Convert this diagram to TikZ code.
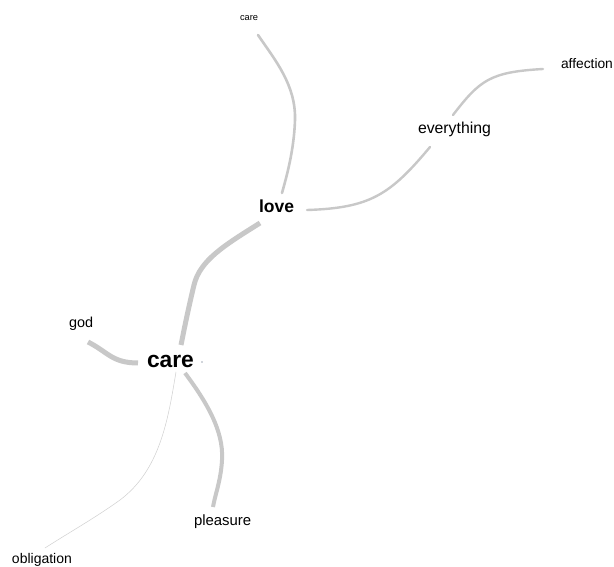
\documentclass[tikz,border=0pt]{standalone}
\usepackage{fontspec}
\setmainfont{Liberation Sans}
\begin{document}
\begin{tikzpicture}[x=1pt,y=-1pt,
  word/.style={anchor=base west,inner sep=0pt,outer sep=0pt,text=black},
  link/.style={draw=edgegray,line cap=round,line join=round},
]
\definecolor{edgegray}{HTML}{C8C8C8}
\definecolor{dotcol}{HTML}{3A4A66}
\useasboundingbox[fill=white] (0,0) rectangle (614,567);

% words
\node[word,font=\fontsize{9.3}{10}\selectfont] (caretop) at (240,21) {care};
\node[word,font=\fontsize{17.5}{19}\selectfont\bfseries] (love) at (259,213) {love};
\node[word,font=\fontsize{15.8}{17}\selectfont] (everything) at (418,134) {everything};
\node[word,font=\fontsize{13.8}{15}\selectfont] (affection) at (561,69) {affection};
\node[word,font=\fontsize{14.4}{16}\selectfont] (god) at (69,327) {god};
\node[word,font=\fontsize{22.8}{24}\selectfont\bfseries] (care) at (147,367) {care};
\node[word,font=\fontsize{14.9}{16}\selectfont] (pleasure) at (194,525) {pleasure};
\node[word,font=\fontsize{14}{15}\selectfont] (obligation) at (12,563) {obligation};

% connectors
\draw[link,line width=2.6pt]
  ([shift={(18,14)}]caretop.base west) .. controls (275,60) and (296,85) .. (295,120)
  .. controls (294,150) and (287,175) .. ([shift={(23,-20)}]love.base west);
\draw[link,line width=2.4pt]
  ([shift={(48,-3)}]love.base west) .. controls (370,208) and (390,195) ..
  ([shift={(12,13)}]everything.base west);
\draw[link,line width=2.4pt]
  ([shift={(35,-19)}]everything.base west) .. controls (480,80) and (490,72) ..
  ([shift={(-18,0)}]affection.base west);
\draw[link,line width=5pt,line cap=butt]
  ([shift={(1,10)}]love.base west) .. controls (225,245) and (200,260) .. (194,285)
  .. controls (188,310) and (184,330) .. ([shift={(34,-22)}]care.base west);
\draw[link,line width=5pt,line cap=butt]
  ([shift={(19,15)}]god.base west) .. controls (108,352) and (112,363) ..
  ([shift={(-9,-4)}]care.base west);
\draw[link,line width=4pt,line cap=butt]
  ([shift={(38,6)}]care.base west) .. controls (205,400) and (224,430) .. (222,460)
  .. controls (221,480) and (215,495) .. ([shift={(19,-18)}]pleasure.base west);
\draw[link,draw=edgegray!85,line width=0.5pt]
  ([shift={(29,5)}]care.base west) .. controls (168,420) and (160,470) .. (120,500)
  .. controls (95,518) and (65,535) .. ([shift={(33,-15)}]obligation.base west);

% small dot beside the main word
\fill[dotcol] ([shift={(55,-5)}]care.base west) circle (0.7);
\end{tikzpicture}
\end{document}
